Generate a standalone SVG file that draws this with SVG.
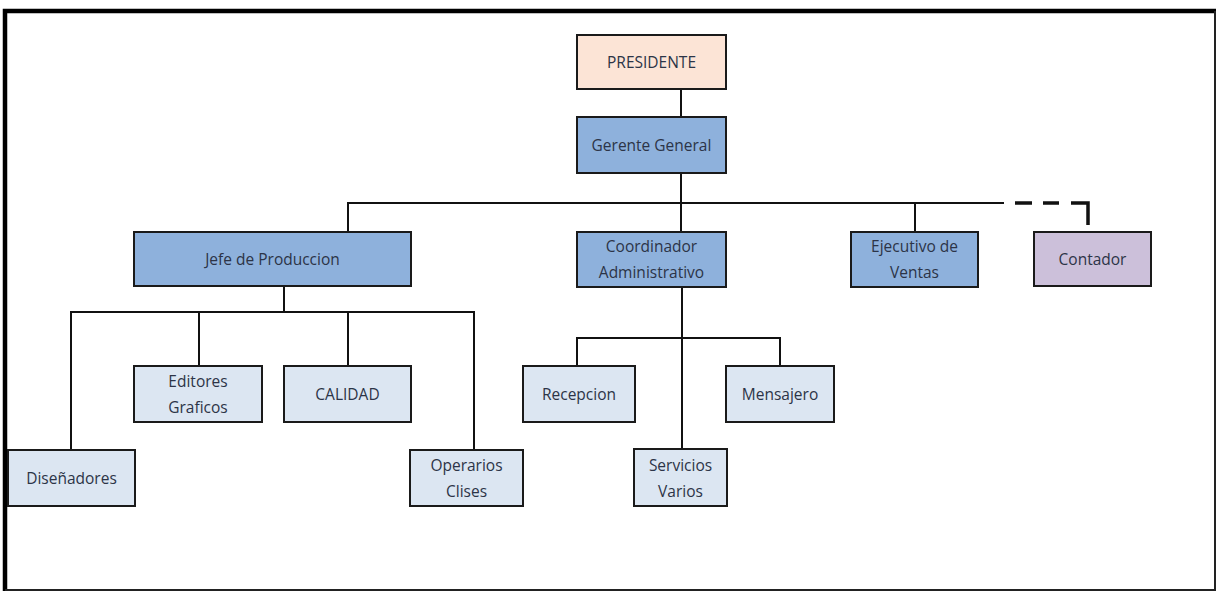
<svg xmlns="http://www.w3.org/2000/svg" width="1218" height="593" viewBox="0 0 1218 593">
<style>
  .box{stroke:#1a1a1a;stroke-width:2}
  .peach{fill:#fce4d6}
  .mid{fill:#8eb1dc}
  .lav{fill:#ccc0da}
  .light{fill:#dce6f2}
  .t{font-family:"Open Sans","Liberation Sans",sans-serif;font-size:15.5px;fill:#2c3447;text-anchor:middle;dominant-baseline:central}
  .ln{fill:none;stroke:#111;stroke-width:2}
  .dash{fill:none;stroke:#111;stroke-width:3.5;stroke-dasharray:0 11 17 11 16 12 40}
</style>
<rect width="1218" height="593" fill="#fff"/>
<g id="frame">
  <path d="M5,591 V11 H1216" fill="none" stroke="#000" stroke-width="4.5"/>
  <path d="M1215,11 V590 H5" fill="none" stroke="#222" stroke-width="2"/>
</g>
<g id="connectors">
  <path class="ln" d="M681,89 V117"/>
  <path class="ln" d="M681,173 V232"/>
  <path class="ln" d="M348,232 V203 H1004"/>
  <path class="ln" d="M915,203 V232"/>
  <path class="dash" d="M1004,203 H1088 V225"/>
  <path class="ln" d="M284,286 V312"/>
  <path class="ln" d="M71,450 V312 H474 V450"/>
  <path class="ln" d="M199,312 V366"/>
  <path class="ln" d="M348,312 V366"/>
  <path class="ln" d="M682,287 V449"/>
  <path class="ln" d="M577,366 V338 H780 V366"/>
</g>
<g id="presidente">
  <rect class="box peach" x="577" y="35" width="149" height="54"/>
  <text class="t" x="651.5" y="62">PRESIDENTE</text>
</g>
<g id="gerente">
  <rect class="box mid" x="577" y="117" width="149" height="56"/>
  <text class="t" x="651.5" y="145">Gerente General</text>
</g>
<g id="jefe">
  <rect class="box mid" x="134" y="232" width="277" height="54"/>
  <text class="t" x="272.5" y="259">Jefe de Produccion</text>
</g>
<g id="coordinador">
  <rect class="box mid" x="577" y="232" width="149" height="55"/>
  <text class="t" x="651.5" y="246">Coordinador</text>
  <text class="t" x="651.5" y="272">Administrativo</text>
</g>
<g id="ejecutivo">
  <rect class="box mid" x="851" y="232" width="127" height="55"/>
  <text class="t" x="914.5" y="246">Ejecutivo de</text>
  <text class="t" x="914.5" y="272">Ventas</text>
</g>
<g id="contador">
  <rect class="box lav" x="1034" y="232" width="117" height="54"/>
  <text class="t" x="1092.5" y="259">Contador</text>
</g>
<g id="editores">
  <rect class="box light" x="134" y="366" width="128" height="56"/>
  <text class="t" x="198" y="381">Editores</text>
  <text class="t" x="198" y="407">Graficos</text>
</g>
<g id="calidad">
  <rect class="box light" x="284" y="366" width="127" height="56"/>
  <text class="t" x="347.5" y="394">CALIDAD</text>
</g>
<g id="disenadores">
  <rect class="box light" x="8" y="450" width="127" height="56"/>
  <text class="t" x="71.5" y="478">Diseñadores</text>
</g>
<g id="operarios">
  <rect class="box light" x="410" y="450" width="113" height="56"/>
  <text class="t" x="466.5" y="465">Operarios</text>
  <text class="t" x="466.5" y="491">Clises</text>
</g>
<g id="recepcion">
  <rect class="box light" x="523" y="366" width="112" height="56"/>
  <text class="t" x="579" y="394">Recepcion</text>
</g>
<g id="mensajero">
  <rect class="box light" x="726" y="366" width="108" height="56"/>
  <text class="t" x="780" y="394">Mensajero</text>
</g>
<g id="servicios">
  <rect class="box light" x="634" y="449" width="93" height="57"/>
  <text class="t" x="680.5" y="465">Servicios</text>
  <text class="t" x="680.5" y="491">Varios</text>
</g>
</svg>
